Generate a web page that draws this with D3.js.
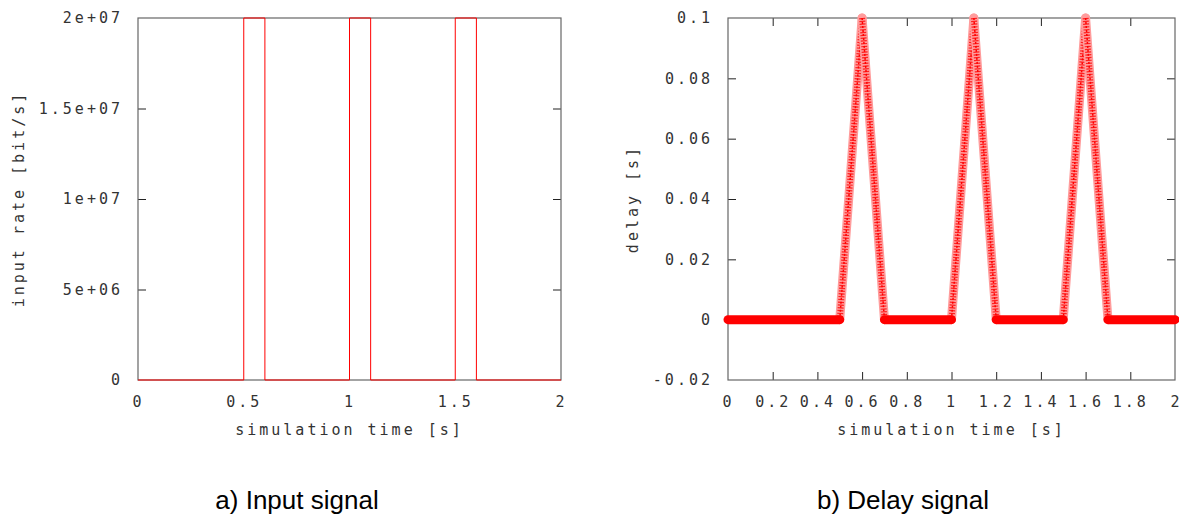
<!DOCTYPE html>
<html>
<head>
<meta charset="utf-8">
<script src="https://d3js.org/d3.v7.min.js"></script>
<style>
    body { margin: 0; background: #fff; }
    .tick text, .axis-label {
        font: 15px "DejaVu Sans Mono", monospace;
        letter-spacing: 3px;
        fill: #333;
    }
    .caption {
        font: 26px "Liberation Sans", Arial, sans-serif;
        fill: #000;
    }
</style>
</head>
<body>
<svg id="chart" width="1179" height="515"></svg>
<script>
    // a) input signal: step curve of the input rate
    var inputTime = [0, 0.5, 0.5, 0.6, 0.6, 1.0, 1.0, 1.1, 1.1, 1.5, 1.5, 1.6, 1.6, 2.0];
    var inputRate = [0, 0, 2e7, 2e7, 0, 0, 2e7, 2e7, 0, 0, 2e7, 2e7, 0, 0];
    var inputXTicks = [0, 0.5, 1, 1.5, 2];
    var inputXLabels = ["0", "0.5", "1", "1.5", "2"];
    var inputYTicks = [0, 5e6, 1e7, 1.5e7, 2e7];
    var inputYLabels = ["0", "5e+06", "1e+07", "1.5e+07", "2e+07"];

    // b) delay signal
    var delayTime = [0, 0.5, 0.6, 0.7, 1.0, 1.1, 1.2, 1.5, 1.6, 1.7, 2.0];
    var delayValue = [0, 0, 0.1, 0, 0, 0.1, 0, 0, 0.1, 0, 0];
    var delayXTicks = [0, 0.2, 0.4, 0.6, 0.8, 1, 1.2, 1.4, 1.6, 1.8, 2];
    var delayXLabels = ["0", "0.2", "0.4", "0.6", "0.8", "1", "1.2", "1.4", "1.6", "1.8", "2"];
    var delayYTicks = [-0.02, 0, 0.02, 0.04, 0.06, 0.08, 0.1];
    var delayYLabels = ["-0.02", "0", "0.02", "0.04", "0.06", "0.08", "0.1"];

    var svg = d3.select("#chart");
    var top_ = 18, bottom = 380;

    function panel(opts) {
        var g = svg.append("g");
        var x = d3.scaleLinear().domain([0, 2]).range([opts.left, opts.right]);
        var y = d3.scaleLinear().domain(opts.yDomain).range([bottom, top_]);

        var fmtX = function (d, i) { return opts.xLabels[i]; };
        var fmtY = function (d, i) { return opts.yLabels[i]; };
        var xTickLen = opts.xTickLines ? -8 : 0;

        // bottom + left with labels, top + right mirrored ticks only
        var axes = [
            [d3.axisBottom(x).tickValues(opts.xTicks).tickFormat(fmtX).tickPadding(16).tickSizeInner(xTickLen), "translate(0," + bottom + ")"],
            [d3.axisTop(x).tickValues(opts.xTicks).tickFormat("").tickSizeInner(xTickLen), "translate(0," + top_ + ")"],
            [d3.axisLeft(y).tickValues(opts.yTicks).tickFormat(fmtY).tickPadding(15).tickSizeInner(-8), "translate(" + opts.left + ",0)"],
            [d3.axisRight(y).tickValues(opts.yTicks).tickFormat("").tickSizeInner(-8), "translate(" + opts.right + ",0)"]
        ];
        axes.forEach(function (a) {
            var ax = g.append("g").attr("transform", a[1])
                .call(a[0].tickSizeOuter(0));
            ax.select(".domain").remove();
            ax.selectAll(".tick line").attr("stroke", "#222");
            ax.selectAll(".tick text").attr("fill", "#333");
        });
        // hide ticks sitting on the frame corners
        g.selectAll(".tick").filter(function (d) {
            return d === opts.xTicks[0] || d === opts.xTicks[opts.xTicks.length - 1] ||
                d === opts.yDomain[0] || d === opts.yDomain[1];
        }).select("line").remove();

        g.append("rect")
            .attr("x", opts.left).attr("y", top_)
            .attr("width", opts.right - opts.left).attr("height", bottom - top_)
            .attr("fill", "none").attr("stroke", "#666").attr("stroke-width", 1.2);

        g.append("text").attr("class", "axis-label")
            .attr("x", (opts.left + opts.right) / 2).attr("y", 435)
            .attr("text-anchor", "middle").text("simulation time [s]");
        g.append("text").attr("class", "axis-label")
            .attr("transform", "translate(" + opts.yLabelX + "," + ((top_ + bottom) / 2) + ") rotate(-90)")
            .attr("text-anchor", "middle").text(opts.yTitle);

        return {g: g, x: x, y: y};
    }

    var p1 = panel({
        left: 138, right: 561, yDomain: [0, 2e7],
        xTicks: inputXTicks, xLabels: inputXLabels, xTickLines: false,
        yTicks: inputYTicks, yLabels: inputYLabels,
        yTitle: "input rate [bit/s]", yLabelX: 24
    });
    var inputPts = inputTime.map(function (t, i) { return [t, inputRate[i]]; });
    p1.g.append("path")
        .datum(inputPts)
        .attr("fill", "none").attr("stroke", "#ff0000").attr("stroke-width", 1)
        .attr("d", d3.line().x(function (d) { return p1.x(d[0]); }).y(function (d) { return p1.y(d[1]); }));

    var p2 = panel({
        left: 728, right: 1175, yDomain: [-0.02, 0.1],
        xTicks: delayXTicks, xLabels: delayXLabels, xTickLines: true,
        yTicks: delayYTicks, yLabels: delayYLabels,
        yTitle: "delay [s]", yLabelX: 638
    });
    // keep the last x label inside the page
    p2.g.selectAll(".tick text").filter(function (d) { return d === 2; })
        .style("letter-spacing", "0px").attr("text-anchor", "end").attr("x", 4);

    // draw each segment: flat parts are solid, slopes look like sparse markers
    var segs = d3.pairs(delayTime.map(function (t, i) { return [t, delayValue[i]]; }));
    var segLine = d3.line().x(function (d) { return p2.x(d[0]); }).y(function (d) { return p2.y(d[1]); });
    segs.filter(function (s) { return s[0][1] !== s[1][1]; }).forEach(function (s) {
        p2.g.append("path").attr("d", segLine(s))
            .attr("fill", "none").attr("stroke", "#ff9c9c").attr("stroke-width", 9)
            .attr("stroke-linecap", "round");
        p2.g.append("path").attr("d", segLine(s))
            .attr("fill", "none").attr("stroke", "#ff2020").attr("stroke-width", 6)
            .attr("stroke-dasharray", "1.2 1.6");
        p2.g.append("path").attr("d", segLine(s))
            .attr("fill", "none").attr("stroke", "#ff0000").attr("stroke-width", 1.5)
            .attr("stroke-dasharray", "2 2");
    });
    segs.filter(function (s) { return s[0][1] === s[1][1]; }).forEach(function (s) {
        p2.g.append("path").attr("d", segLine(s))
            .attr("fill", "none").attr("stroke", "#ff0000").attr("stroke-width", 9)
            .attr("stroke-linecap", "round");
    });

    svg.append("text").attr("class", "caption").attr("x", 297).attr("y", 509)
        .attr("text-anchor", "middle").text("a) Input signal");
    svg.append("text").attr("class", "caption").attr("x", 903).attr("y", 509)
        .attr("text-anchor", "middle").text("b) Delay signal");
</script>
</body>
</html>
